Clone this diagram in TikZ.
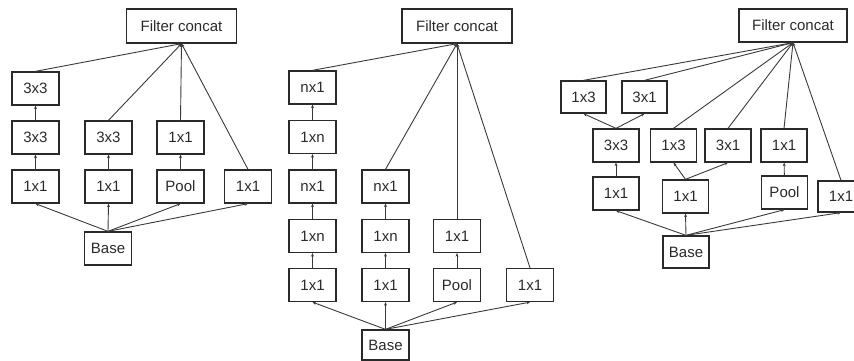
\documentclass[tikz,border=0pt]{standalone}
\usepackage{fontspec}
\setmainfont{Liberation Sans}
\usetikzlibrary{arrows.meta}
\definecolor{boxc}{HTML}{2A2A2A}
\definecolor{linec}{HTML}{3A3A3A}
\tikzset{
  blk/.style={draw=boxc, line width=1.3pt, inner sep=0pt, minimum width=47pt, minimum height=33pt, text=boxc, font=\fontsize{15}{18}\selectfont},
  fcbox/.style={blk, minimum width=110pt, minimum height=34pt},
  conn/.style={draw=linec, line width=0.9pt, -{Stealth[length=3.5pt,width=3pt]}}
}
\begin{document}
\begin{tikzpicture}[x=1pt,y=-1pt]
\useasboundingbox (0,0) rectangle (854,361);
% ---------- panel 1 ----------
\node[fcbox] (fc1) at (181.5,26) {Filter concat};
\node[blk] (a1) at (35.5,88.5) {3x3};
\node[blk] (a2) at (35.5,137.5) {3x3};
\node[blk] (a3) at (35.5,186.5) {1x1};
\node[blk] (b2) at (108.5,137.5) {3x3};
\node[blk] (b3) at (108.5,186.5) {1x1};
\node[blk] (c2) at (180.5,137.5) {1x1};
\node[blk] (c3) at (180.5,186.5) {Pool};
\node[blk] (d3) at (248,186.5) {1x1};
\node[blk] (base1) at (108,248.5) {Base};
\draw[conn] (base1.north) -- (a3.south);
\draw[conn] (base1.north) -- (b3.south);
\draw[conn] (base1.north) -- (c3.south);
\draw[conn] (base1.north) -- (d3.south);
\draw[conn] (a3) -- (a2);
\draw[conn] (a2) -- (a1);
\draw[conn] (b3) -- (b2);
\draw[conn] (c3) -- (c2);
\draw[conn] (a1.north) -- (fc1.south);
\draw[conn] (b2.north) -- (fc1.south);
\draw[conn] (c2.north) -- (fc1.south);
\draw[conn] (d3.north) -- (fc1.south);
% ---------- panel 2 ----------
\node[fcbox] (fc2) at (457,26) {Filter concat};
\node[blk] (e1) at (312.5,87.5) {nx1};
\node[blk] (e2) at (312.5,137) {1xn};
\node[blk] (e3) at (312.5,186.5) {nx1};
\node[blk] (e4) at (312.5,236) {1xn};
\node[blk] (e5) at (312.5,285) {1x1};
\node[blk] (f3) at (385.5,186.5) {nx1};
\node[blk] (f4) at (385.5,236) {1xn};
\node[blk] (f5) at (385.5,285) {1x1};
\node[blk] (g4) at (457,236) {1x1};
\node[blk] (g5) at (457,285) {Pool};
\node[blk] (h5) at (530,285) {1x1};
\node[blk, minimum height=30pt] (base2) at (385.5,345) {Base};
\draw[conn] (base2.north) -- (e5.south);
\draw[conn] (base2.north) -- (f5.south);
\draw[conn] (base2.north) -- (g5.south);
\draw[conn] (base2.north) -- (h5.south);
\draw[conn] (e5) -- (e4);
\draw[conn] (e4) -- (e3);
\draw[conn] (e3) -- (e2);
\draw[conn] (e2) -- (e1);
\draw[conn] (f5) -- (f4);
\draw[conn] (f4) -- (f3);
\draw[conn] (g5) -- (g4);
\draw[conn] (e1.north) -- (fc2.south);
\draw[conn] (f3.north) -- (fc2.south);
\draw[conn] (g4.north) -- (fc2.south);
\draw[conn] (h5.north) -- (fc2.south);
% ---------- panel 3 ----------
\node[fcbox, minimum width=108pt, minimum height=33pt] (fc3) at (793,25.5) {Filter concat};
\node[blk, minimum width=45pt, minimum height=32pt] (t1) at (583.5,97) {1x3};
\node[blk, minimum width=45pt, minimum height=32pt] (t2) at (644.5,97) {3x1};
\node[blk, minimum width=46pt] (r1) at (616,145.5) {3x3};
\node[blk, minimum width=46pt] (r2) at (673.5,145.5) {1x3};
\node[blk, minimum width=46pt] (r3) at (728,145.5) {3x1};
\node[blk, minimum width=46pt] (r4) at (784,145.5) {1x1};
\node[blk, minimum width=46pt] (s1) at (616,193.5) {1x1};
\node[blk, minimum width=46pt] (s2) at (685.5,196.5) {1x1};
\node[blk, minimum width=46pt] (s3) at (784.5,192.5) {Pool};
\node[blk, minimum width=46pt, minimum height=31pt] (s4) at (841,196.5) {1x1};
\node[blk, minimum width=46pt, minimum height=32pt] (base3) at (686,252) {Base};
\draw[conn] (base3.north) -- (s1.south);
\draw[conn] (base3.north) -- (s2.south);
\draw[conn] (base3.north) -- (s3.south);
\draw[conn] (base3.north) -- (s4.south);
\draw[conn] (s1) -- (r1);
\draw[conn] (r1.north) -- (t1.south);
\draw[conn] (r1.north) -- (t2.south);
\draw[conn] (s2.north) -- (r2.south);
\draw[conn] (s2.north) -- (r3.south);
\draw[conn] (s3) -- (r4);
\draw[conn] (t1.north) -- (fc3.south);
\draw[conn] (t2.north) -- (fc3.south);
\draw[conn] (r2.north) -- (fc3.south);
\draw[conn] (r3.north) -- (fc3.south);
\draw[conn] (r4.north) -- (fc3.south);
\draw[conn] (s4.north) -- (fc3.south);
\end{tikzpicture}
\end{document}
